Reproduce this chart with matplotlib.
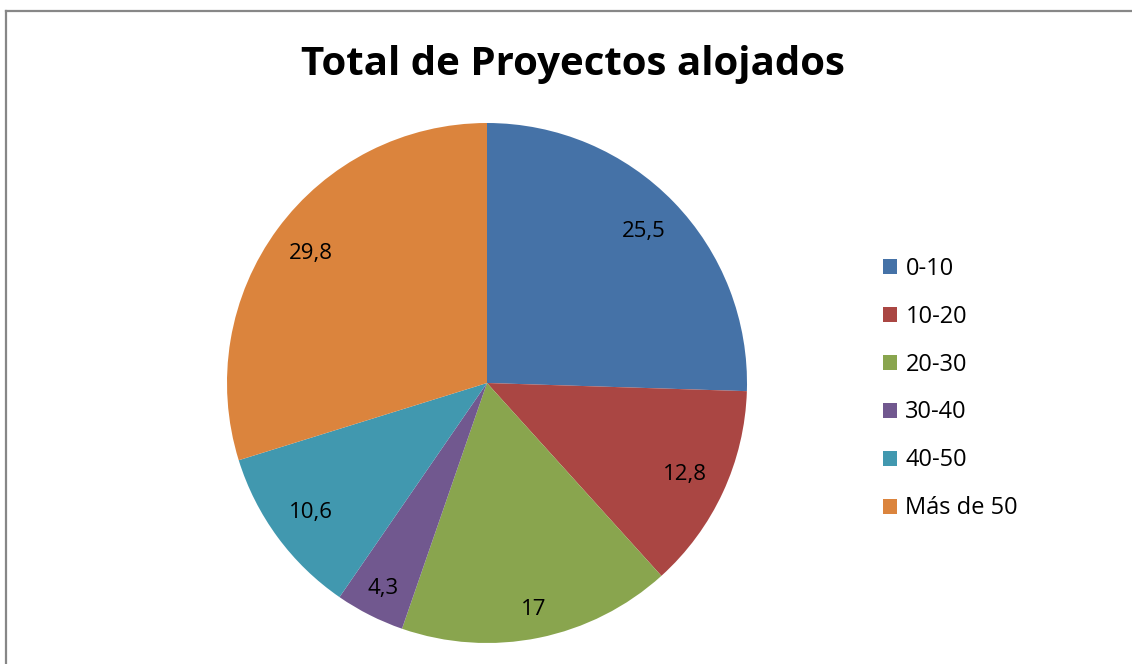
import matplotlib.pyplot as plt
from matplotlib.lines import Line2D

plt.rcParams['font.family'] = ['Open Sans', 'DejaVu Sans']

categorias = ['0-10', '10-20', '20-30', '30-40', '40-50', 'Más de 50']
valores = [25.5, 12.8, 17, 4.3, 10.6, 29.8]
etiquetas = ['25,5', '12,8', '17', '4,3', '10,6', '29,8']
colores = ['#4572A7', '#AA4643', '#89A54E', '#71588F', '#4198AF', '#DB843D']

# distancia radial de cada etiqueta (ajuste "best fit" de Excel)
dist_etiquetas = [0.84, 0.84, 0.89, 0.885, 0.84, 0.84]
dist_base = 0.84

fig = plt.figure(figsize=(11.32, 6.64), dpi=100)

# marco gris (solo arriba e izquierda, como en la captura)
fig.add_artist(Line2D([5.5 / 1132, 1], [1 - 10.5 / 664, 1 - 10.5 / 664],
                      transform=fig.transFigure, color='#878787', lw=1.6))
fig.add_artist(Line2D([5.5 / 1132, 5.5 / 1132], [0, 1 - 10.5 / 664],
                      transform=fig.transFigure, color='#878787', lw=1.6))

ax = fig.add_axes([227 / 1132, 21 / 664, 520 / 1132, 520 / 664])
wedges, textos = ax.pie(valores, colors=colores, startangle=90, counterclock=False,
                        labels=etiquetas, labeldistance=dist_base, radius=1,
                        wedgeprops=dict(linewidth=0),
                        textprops=dict(fontsize=16, color='black'))
for t, d in zip(textos, dist_etiquetas):
    x, y = t.get_position()
    t.set_position((x * d / dist_base, y * d / dist_base))
    t.set_ha('center')
    t.set_va('center')
ax.set_xlim(-1, 1)
ax.set_ylim(-1, 1)
ax.set_aspect('equal')

fig.text(573 / 1132, 1 - 64 / 664, 'Total de Proyectos alojados', ha='center', va='center',
         fontsize=29, fontweight='bold')

leg = fig.legend(wedges, categorias, loc='center left', bbox_to_anchor=(883 / 1132, 1 - 388.5 / 664),
                 frameon=False, fontsize=17, handlelength=0.6, handleheight=0.6,
                 handletextpad=0.35, labelspacing=1.015, borderaxespad=0, borderpad=0)

plt.savefig('out.png', dpi=100)
